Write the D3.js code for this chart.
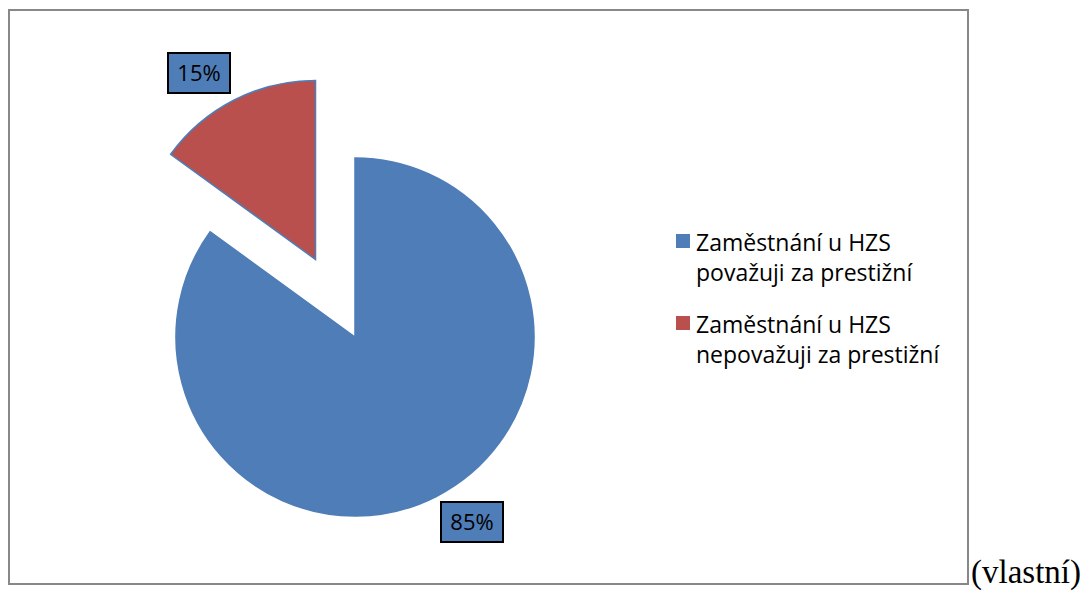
<!DOCTYPE html>
<html lang="cs">
<head>
    <meta charset="UTF-8">
    <title>HZS prestiž</title>
    <script src="https://d3js.org/d3.v7.min.js"></script>
    <style>
        body { margin: 0; background: #fff; }
        text.label { font-family: 'Open Sans', 'Noto Sans', sans-serif; font-size: 22px; fill: #000; }
        text.legend { font-family: 'Open Sans', 'Noto Sans', sans-serif; font-size: 23px; fill: #000; }
        text.note { font-family: 'Liberation Serif', 'DejaVu Serif', serif; font-size: 33px; fill: #000; }
    </style>
</head>
<body>
<svg width="1091" height="596"></svg>
<script>
    const categories = ["Zaměstnání u HZS považuji za prestižní", "Zaměstnání u HZS nepovažuji za prestižní"];
    const values = [85, 15];
    const valueLabels = ["85%", "15%"];
    const legendLines = [["Zaměstnání u HZS", "považuji za prestižní"], ["Zaměstnání u HZS", "nepovažuji za prestižní"]];
    const colors = ["#4E7DB7", "#B9504D"];

    const svg = d3.select("svg");

    // chart frame
    svg.append("rect").attr("x", 9).attr("y", 10).attr("width", 959).attr("height", 574)
        .attr("fill", "none").attr("stroke", "#888").attr("stroke-width", 2);

    svg.append("text").attr("class", "note").attr("x", 971).attr("y", 583).text("(vlastní)");

    const cx = 355, cy = 337, r = 179, explode = 87;
    const pie = d3.pie().sort(null)(values);
    const arc = d3.arc().innerRadius(0).outerRadius(r);
    const labelPos = [[117, 185], [-156, -264]];

    const g = svg.append("g").attr("transform", `translate(${cx},${cy})`);
    const slices = g.selectAll("g.slice").data(pie).enter().append("g")
        .attr("transform", (d, i) => {
            if (i === 0) return null;
            const a = (d.startAngle + d.endAngle) / 2;
            return `translate(${Math.sin(a) * explode},${-Math.cos(a) * explode})`;
        });
    slices.append("path").attr("d", arc)
        .attr("fill", (d, i) => colors[i])
        .attr("stroke", colors[0]).attr("stroke-width", 1.5);

    // data labels
    const lab = g.selectAll("g.lab").data(pie).enter().append("g")
        .attr("transform", (d, i) => `translate(${labelPos[i][0]},${labelPos[i][1]})`);
    lab.append("rect").attr("x", -31).attr("y", -20).attr("width", 62).attr("height", 40)
        .attr("fill", colors[0]).attr("stroke", "#000").attr("stroke-width", 2);
    lab.append("text").attr("class", "label").attr("text-anchor", "middle").attr("y", 8)
        .text((d, i) => valueLabels[i]);

    // legend
    const leg = svg.append("g").attr("transform", "translate(676,234)");
    const item = leg.selectAll("g").data(categories).enter().append("g")
        .attr("transform", (d, i) => `translate(0,${i * 82})`);
    item.append("rect").attr("width", 14).attr("height", 14).attr("fill", (d, i) => colors[i]);
    item.each(function (d, i) {
        const t = d3.select(this).append("text").attr("class", "legend").attr("x", 20).attr("y", 17);
        legendLines[i].forEach((ln, j) => t.append("tspan").attr("x", 20).attr("dy", j ? 30 : 0).text(ln));
    });
</script>
</body>
</html>
